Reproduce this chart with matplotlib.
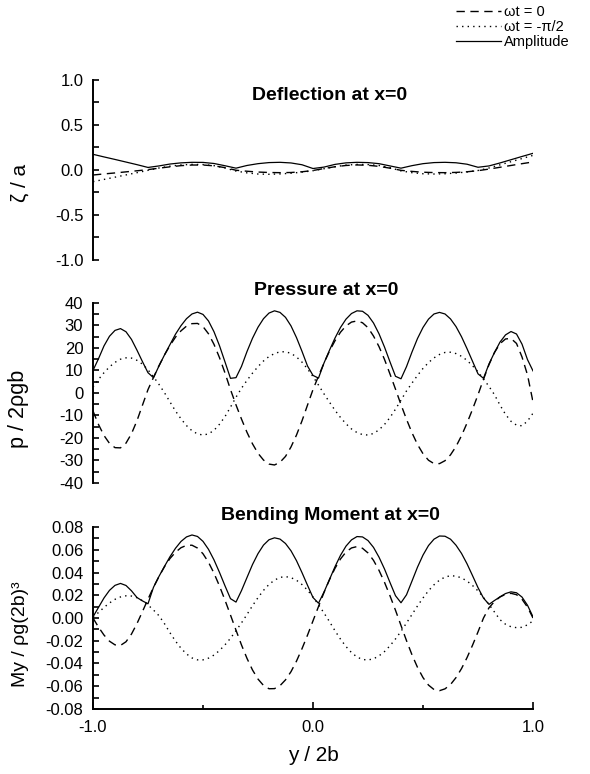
import numpy as np
import matplotlib
matplotlib.use("Agg")
import matplotlib.pyplot as plt
from matplotlib.ticker import MultipleLocator, FormatStrFormatter

plt.rcParams['font.family'] = ['Liberation Sans', 'DejaVu Sans']
plt.rcParams['axes.unicode_minus'] = False

# sample positions across the plate (y / 2b)
defl_y = np.linspace(-1.0, 1.0, 41)
fine_y = np.linspace(-1.0, 1.0, 81)

# deflection at x=0 (zeta / a)
defl_wt0 = [-0.056, -0.044, -0.033, -0.021, -0.009, 0.004, 0.020, 0.035, 0.048, 0.055,
            0.055, 0.046, 0.026, -0.003, -0.014, -0.023, -0.028, -0.030, -0.028, -0.020,
            -0.006, 0.016, 0.036, 0.050, 0.056, 0.052, 0.040, 0.020, -0.004, -0.016,
            -0.025, -0.029, -0.030, -0.027, -0.020, -0.008, 0.010, 0.030, 0.050, 0.070,
            0.089]
defl_wt90 = [-0.130, -0.105, -0.080, -0.055, -0.030, -0.004, 0.022, 0.042, 0.056, 0.062,
             0.060, 0.048, 0.022, -0.012, -0.032, -0.045, -0.048, -0.044, -0.036, -0.024,
             -0.008, 0.014, 0.036, 0.054, 0.062, 0.060, 0.050, 0.026, -0.010, -0.030,
             -0.042, -0.045, -0.042, -0.034, -0.022, -0.006, 0.022, 0.057, 0.092, 0.127,
             0.162]
defl_amp = [0.174, 0.145, 0.117, 0.088, 0.059, 0.028, 0.045, 0.066, 0.079, 0.085,
            0.084, 0.072, 0.047, 0.020, 0.050, 0.070, 0.082, 0.085, 0.078, 0.058,
            0.016, 0.032, 0.062, 0.079, 0.085, 0.082, 0.070, 0.045, 0.020, 0.048,
            0.070, 0.082, 0.085, 0.080, 0.064, 0.030, 0.045, 0.078, 0.114, 0.150,
            0.185]

# pressure at x=0 (p / 2 rho g b)
pres_wt0 = [-8.0, -14.0, -18.9, -22.4, -24.3, -24.4, -22.3, -18.1, -12.3, -5.4,
            1.5, 6.9, 12.1, 16.9, 21.1, 24.8, 27.6, 29.7, 30.8, 30.9,
            29.5, 26.3, 21.6, 15.7, 8.9, 1.5, -5.3, -11.6, -17.5, -22.6,
            -26.8, -29.8, -31.6, -32.0, -30.8, -28.2, -24.0, -18.7, -12.4, -5.4,
            1.5, 7.5, 13.3, 18.6, 23.2, 27.0, 29.8, 31.5, 32.0, 31.2,
            29.0, 25.3, 20.6, 14.9, 8.4, 1.7, -5.2, -11.7, -17.7, -22.9,
            -27.0, -29.9, -31.4, -31.4, -30.1, -27.5, -23.8, -19.0, -13.4, -7.3,
            -0.8, 6.1, 12.6, 18.0, 21.9, 24.0, 24.2, 22.0, 16.0, 8.0,
            -4.0]
pres_wt90 = [2.7, 6.0, 9.0, 11.6, 13.6, 15.0, 15.6, 15.5, 14.5, 12.8,
             10.3, 7.2, 3.8, 0.1, -4.0, -8.0, -11.5, -14.5, -16.8, -18.2,
             -18.7, -18.2, -16.6, -13.9, -10.5, -6.3, -1.9, 2.1, 5.6, 8.8,
             11.7, 14.2, 16.2, 17.5, 18.3, 18.3, 17.6, 16.0, 13.7, 10.7,
             7.3, 3.5, -0.4, -4.1, -7.7, -10.9, -13.7, -16.0, -17.6, -18.5,
             -18.7, -18.0, -16.4, -14.0, -10.9, -7.2, -3.2, 0.9, 4.4, 7.8,
             10.9, 13.5, 15.6, 17.1, 18.0, 18.1, 17.5, 16.3, 14.5, 12.1,
             9.4, 6.2, 2.9, -0.8, -5.4, -9.5, -12.6, -14.3, -14.6, -12.5,
             -9.0]
pres_amp = [10.0, 15.2, 20.9, 25.2, 27.8, 28.6, 27.2, 23.8, 19.0, 13.9,
            9.0, 6.8, 12.0, 16.9, 21.5, 26.1, 29.9, 33.0, 35.1, 35.9,
            34.9, 32.0, 27.2, 21.0, 13.8, 6.5, 6.8, 11.8, 18.4, 24.3,
            29.2, 33.0, 35.5, 36.5, 35.8, 33.6, 29.8, 24.6, 18.5, 12.0,
            7.8, 6.6, 13.3, 19.0, 24.4, 29.1, 32.8, 35.3, 36.5, 36.3,
            34.5, 31.1, 26.3, 20.4, 13.8, 7.4, 6.3, 11.7, 18.2, 24.2,
            29.1, 32.8, 35.1, 35.8, 35.1, 32.9, 29.5, 25.0, 19.7, 14.1,
            8.5, 6.5, 12.9, 18.0, 22.6, 25.8, 27.3, 26.2, 21.7, 14.8,
            9.8]

# bending moment at x=0 (My / rho g (2b)^3)
bend_wt0 = [0.0000, -0.0080, -0.0150, -0.0204, -0.0236, -0.0241, -0.0209, -0.0141, -0.0049, 0.0057,
            0.0166, 0.0270, 0.0365, 0.0451, 0.0523, 0.0578, 0.0618, 0.0639, 0.0640, 0.0615,
            0.0565, 0.0490, 0.0394, 0.0281, 0.0157, 0.0026, -0.0107, -0.0237, -0.0355, -0.0457,
            -0.0537, -0.0593, -0.0622, -0.0621, -0.0595, -0.0544, -0.0472, -0.0379, -0.0270, -0.0151,
            -0.0025, 0.0101, 0.0224, 0.0337, 0.0437, 0.0519, 0.0580, 0.0616, 0.0628, 0.0613,
            0.0572, 0.0507, 0.0419, 0.0314, 0.0195, 0.0068, -0.0066, -0.0199, -0.0324, -0.0434,
            -0.0524, -0.0590, -0.0629, -0.0639, -0.0623, -0.0585, -0.0524, -0.0445, -0.0349, -0.0240,
            -0.0122, 0.0000, 0.0090, 0.0145, 0.0185, 0.0208, 0.0217, 0.0205, 0.0165, 0.0095,
            0.0000]
bend_wt90 = [0.0010, 0.0048, 0.0093, 0.0132, 0.0164, 0.0185, 0.0195, 0.0193, 0.0179, 0.0152,
             0.0115, 0.0070, 0.0020, -0.0050, -0.0130, -0.0203, -0.0266, -0.0316, -0.0351, -0.0368,
             -0.0368, -0.0353, -0.0326, -0.0286, -0.0236, -0.0178, -0.0112, -0.0043, 0.0031, 0.0108,
             0.0179, 0.0243, 0.0295, 0.0333, 0.0357, 0.0364, 0.0355, 0.0332, 0.0294, 0.0245,
             0.0185, 0.0117, 0.0044, -0.0032, -0.0112, -0.0186, -0.0251, -0.0304, -0.0343, -0.0365,
             -0.0369, -0.0359, -0.0333, -0.0295, -0.0244, -0.0184, -0.0117, -0.0044, 0.0031, 0.0106,
             0.0176, 0.0240, 0.0292, 0.0333, 0.0360, 0.0372, 0.0368, 0.0353, 0.0325, 0.0286,
             0.0238, 0.0181, 0.0119, 0.0052, -0.0015, -0.0055, -0.0077, -0.0085, -0.0082, -0.0060,
             -0.0025]
bend_amp = [0.0010, 0.0093, 0.0176, 0.0243, 0.0287, 0.0304, 0.0286, 0.0239, 0.0180, 0.0150,
            0.0125, 0.0270, 0.0366, 0.0454, 0.0539, 0.0613, 0.0673, 0.0713, 0.0730, 0.0717,
            0.0674, 0.0604, 0.0511, 0.0401, 0.0283, 0.0170, 0.0140, 0.0241, 0.0356, 0.0470,
            0.0566, 0.0641, 0.0688, 0.0705, 0.0694, 0.0655, 0.0591, 0.0504, 0.0399, 0.0288,
            0.0180, 0.0130, 0.0228, 0.0339, 0.0451, 0.0551, 0.0632, 0.0687, 0.0716, 0.0713,
            0.0681, 0.0621, 0.0535, 0.0431, 0.0312, 0.0196, 0.0134, 0.0204, 0.0325, 0.0447,
            0.0553, 0.0637, 0.0693, 0.0721, 0.0719, 0.0693, 0.0640, 0.0568, 0.0477, 0.0373,
            0.0267, 0.0175, 0.0120, 0.0154, 0.0186, 0.0215, 0.0230, 0.0222, 0.0184, 0.0112,
            0.0010]

titles = ["Deflection at x=0", "Pressure at x=0", "Bending Moment at x=0"]
ylabels = ["ζ / a", "p / 2ρgb", "My / ρg(2b)³"]
legend_labels = ["ωt = 0", "ωt = -π/2", "Amplitude"]

DASH = (0, (6, 4))
DOT = (0, (1, 3))

fig = plt.figure(figsize=(5.9, 7.74), dpi=100)
left, width = 0.1576, 0.7458
ax1 = fig.add_axes([left, 0.6641, width, 0.2326])
ax2 = fig.add_axes([left, 0.3760, width, 0.2326])
ax3 = fig.add_axes([left, 0.0840, width, 0.2351])

panels = [
    (ax1, defl_y, defl_wt0, defl_wt90, defl_amp),
    (ax2, fine_y, pres_wt0, pres_wt90, pres_amp),
    (ax3, fine_y, bend_wt0, bend_wt90, bend_amp),
]
handles = None
for ax, xs, d0, d90, amp in panels:
    h1, = ax.plot(xs, d0, color='black', lw=1.0, ls=DASH)
    h2, = ax.plot(xs, d90, color='black', lw=1.0, ls=DOT)
    h3, = ax.plot(xs, amp, color='black', lw=0.9)
    if handles is None:
        handles = [h1, h2, h3]
    ax.set_xlim(-1.0, 1.0)
    for s in ['top', 'right']:
        ax.spines[s].set_visible(False)
    ax.spines['left'].set_linewidth(1.4)
    ax.tick_params(axis='y', which='both', direction='in', length=4.5, width=1.2,
                   labelsize=12, pad=7)

# top panel
ax1.set_ylim(-1.0, 1.0)
ax1.yaxis.set_major_locator(MultipleLocator(0.5))
ax1.yaxis.set_minor_locator(MultipleLocator(0.25))
ax1.yaxis.set_major_formatter(FormatStrFormatter('%.1f'))
ax1.spines['bottom'].set_visible(False)
ax1.xaxis.set_visible(False)

# middle panel
ax2.set_ylim(-40, 40)
ax2.yaxis.set_major_locator(MultipleLocator(10))
ax2.yaxis.set_minor_locator(MultipleLocator(5))
ax2.spines['bottom'].set_visible(False)
ax2.xaxis.set_visible(False)

# bottom panel
ax3.set_ylim(-0.08, 0.08)
ax3.yaxis.set_major_locator(MultipleLocator(0.02))
ax3.yaxis.set_minor_locator(MultipleLocator(0.01))
ax3.yaxis.set_major_formatter(FormatStrFormatter('%.2f'))
ax3.spines['bottom'].set_linewidth(1.4)
ax3.xaxis.set_major_locator(MultipleLocator(1.0))
ax3.xaxis.set_minor_locator(MultipleLocator(0.5))
ax3.xaxis.set_major_formatter(FormatStrFormatter('%.1f'))
ax3.tick_params(axis='x', which='major', direction='in', length=5, width=1.2,
                labelsize=12, pad=8)
ax3.tick_params(axis='x', which='minor', direction='in', length=3, width=1.2)
ax3.set_xlabel("y / 2b", fontsize=15, labelpad=8)

label_sizes = [15, 15.5, 14]
label_ys = [0.43, 0.41, 0.41]
for ax, lab, fs, ly in zip([ax1, ax2, ax3], ylabels, label_sizes, label_ys):
    ax.set_ylabel(lab, fontsize=fs)
    ax.yaxis.set_label_coords(-0.145, ly)

# panel titles
fig.text(330 / 590, 1 - 96 / 774, titles[0], ha='center', va='center',
         fontsize=14, fontweight='bold')
fig.text(326 / 590, 1 - 290 / 774, titles[1], ha='center', va='center',
         fontsize=14, fontweight='bold')
fig.text(330 / 590, 1 - 516 / 774, titles[2], ha='center', va='center',
         fontsize=14, fontweight='bold')

fig.legend(handles, legend_labels, loc='upper left',
           bbox_to_anchor=(456 / 590, 1 - 5 / 774), frameon=False, fontsize=10.5,
           handlelength=3.1, handletextpad=0.2, labelspacing=0.08,
           borderpad=0, borderaxespad=0)

fig.savefig("out.png", dpi=100)
